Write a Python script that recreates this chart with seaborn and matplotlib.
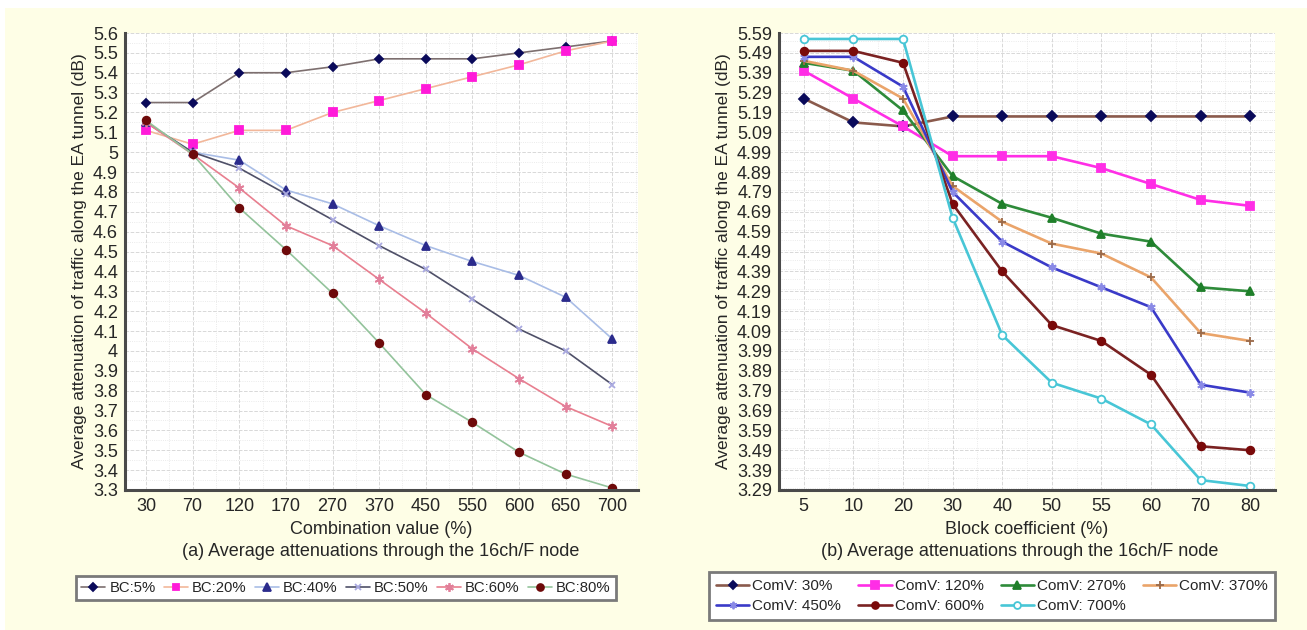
import numpy as np
import pandas as pd
import matplotlib
matplotlib.use("Agg")
import matplotlib.pyplot as plt
from matplotlib.patches import Rectangle
from matplotlib.ticker import MultipleLocator, FormatStrFormatter
import seaborn as sns

# ---- data ----
comb_values = ["30", "70", "120", "170", "270", "370", "450", "550", "600", "650", "700"]
bc5 = [5.25, 5.25, 5.40, 5.40, 5.43, 5.47, 5.47, 5.47, 5.50, 5.53, 5.56]
bc20 = [5.11, 5.04, 5.11, 5.11, 5.20, 5.26, 5.32, 5.38, 5.44, 5.51, 5.56]
bc40 = [5.15, 5.00, 4.96, 4.81, 4.74, 4.63, 4.53, 4.45, 4.38, 4.27, 4.06]
bc50 = [5.15, 5.00, 4.92, 4.79, 4.66, 4.53, 4.41, 4.26, 4.11, 4.00, 3.83]
bc60 = [5.15, 4.99, 4.82, 4.63, 4.53, 4.36, 4.19, 4.01, 3.86, 3.72, 3.62]
bc80 = [5.16, 4.99, 4.72, 4.51, 4.29, 4.04, 3.78, 3.64, 3.49, 3.38, 3.31]

block_coefs = ["5", "10", "20", "30", "40", "50", "55", "60", "70", "80"]
comv30 = [5.26, 5.14, 5.12, 5.17, 5.17, 5.17, 5.17, 5.17, 5.17, 5.17]
comv120 = [5.40, 5.26, 5.12, 4.97, 4.97, 4.97, 4.91, 4.83, 4.75, 4.72]
comv270 = [5.44, 5.40, 5.20, 4.87, 4.73, 4.66, 4.58, 4.54, 4.31, 4.29]
comv370 = [5.45, 5.40, 5.26, 4.82, 4.64, 4.53, 4.48, 4.36, 4.08, 4.04]
comv450 = [5.47, 5.47, 5.32, 4.79, 4.54, 4.41, 4.31, 4.21, 3.82, 3.78]
comv600 = [5.50, 5.50, 5.44, 4.73, 4.39, 4.12, 4.04, 3.87, 3.51, 3.49]
comv700 = [5.56, 5.56, 5.56, 4.66, 4.07, 3.83, 3.75, 3.62, 3.34, 3.31]

# label, values, line colour, marker, marker face, marker edge, marker size
series_a = [
    ("BC:5%", bc5, "#7d6f6f", "D", "#0a0a5a", "#0a0a5a", 4.5),
    ("BC:20%", bc20, "#f2b79a", "s", "#ff1ad9", "#ff1ad9", 5.5),
    ("BC:40%", bc40, "#a9bde6", "^", "#2b2b8c", "#2b2b8c", 6),
    ("BC:50%", bc50, "#4f5068", "x", "#a9a9e0", "#a9a9e0", 5),
    ("BC:60%", bc60, "#e87f8f", (6, 2, 0), "#e27f9a", "#e27f9a", 7),
    ("BC:80%", bc80, "#93c39b", "o", "#6e0a0a", "#6e0a0a", 5.5),
]
series_b = [
    ("ComV: 30%", comv30, "#8a5a4c", "D", "#0a0a5a", "#0a0a5a", 5),
    ("ComV: 120%", comv120, "#ff2ee6", "s", "#ff2ee6", "#ff2ee6", 6),
    ("ComV: 270%", comv270, "#2e8b3a", "^", "#1f7f2a", "#1f7f2a", 6),
    ("ComV: 370%", comv370, "#eaa46a", "+", "#9a6a4a", "#9a6a4a", 6),
    ("ComV: 450%", comv450, "#3a3ac8", (6, 2, 0), "#8a8ae6", "#8a8ae6", 6),
    ("ComV: 600%", comv600, "#7a2222", "o", "#7a0a0a", "#7a0a0a", 5.5),
    ("ComV: 700%", comv700, "#48c6d6", "o", "white", "#48c6d6", 5.5),
]

sns.set_style("white")
plt.rcParams["font.family"] = ["Liberation Sans", "DejaVu Sans"]

fig = plt.figure(figsize=(13.07, 6.3), dpi=100)
fig.patch.set_facecolor("white")
fig.patches.append(Rectangle((5 / 1307, 0), 1 - 5 / 1307, 1 - 8 / 630,
                             transform=fig.transFigure, facecolor="#fefee6",
                             edgecolor="none", zorder=-10))

ax_a = fig.add_axes([125 / 1307, 1 - 490 / 630, 513 / 1307, 457 / 630])
ax_b = fig.add_axes([779 / 1307, 1 - 490 / 630, 496 / 1307, 457 / 630])


def draw_panel(ax, cats, series, lw):
    pos = np.arange(len(cats))
    for label, vals, lc, mk, mfc, mec, ms in series:
        df = pd.DataFrame({"x": pos, "y": vals})
        sns.lineplot(data=df, x="x", y="y", ax=ax, color=lc, linewidth=lw,
                     marker=mk, markersize=ms, markerfacecolor=mfc,
                     markeredgecolor=mec, markeredgewidth=1.3, label=label,
                     sort=False)
    ax.set_xticks(pos)
    ax.set_xticklabels(cats)
    ax.set_facecolor("white")
    # tick marks sit between the categories, as in the original
    ax.xaxis.set_minor_locator(MultipleLocator(1, offset=0.5))
    ax.yaxis.set_minor_locator(MultipleLocator(0.05))
    ax.grid(which="major", color="#d8d8d8", linewidth=0.7, linestyle="--")
    ax.grid(which="minor", color="#e4e4e4", linewidth=0.6, linestyle=":")
    ax.set_axisbelow(True)
    for s in ["top", "right"]:
        ax.spines[s].set_visible(False)
    for s in ["left", "bottom"]:
        ax.spines[s].set_color("#4a4a4a")
        ax.spines[s].set_linewidth(2.2)
    ax.tick_params(axis="x", which="major", length=0, labelsize=13, pad=6)
    ax.tick_params(axis="x", which="minor", direction="in", length=4,
                   width=1.5, color="#3a3a3a")
    ax.tick_params(axis="y", which="major", direction="out", length=3,
                   width=1.5, color="#4a4a4a", labelsize=13, pad=2)
    ax.tick_params(axis="y", which="minor", length=0)
    ax.set_ylabel("Average attenuation of traffic along the EA tunnel (dB)",
                  fontsize=12.5, labelpad=4)


draw_panel(ax_a, comb_values, series_a, 1.2)
ax_a.set_xlim(-0.45, 10.55)
ax_a.set_ylim(3.3, 5.6)
ax_a.set_yticks(np.round(np.arange(3.3, 5.65, 0.1), 2))
ax_a.yaxis.set_major_formatter(FormatStrFormatter("%g"))
ax_a.set_xlabel("Combination value (%)", fontsize=13, labelpad=4)

draw_panel(ax_b, block_coefs, series_b, 1.9)
ax_b.set_xlim(-0.5, 9.5)
ax_b.set_ylim(3.29, 5.59)
ax_b.set_yticks(np.round(np.arange(3.29, 5.64, 0.1), 2))
ax_b.yaxis.set_major_formatter(FormatStrFormatter("%.2f"))
ax_b.set_xlabel("Block coefficient (%)", fontsize=13, labelpad=4)

fig.text(381 / 1307, 1 - 552 / 630,
         "(a) Average attenuations through the 16ch/F node",
         ha="center", va="center", fontsize=13)
fig.text(1020 / 1307, 1 - 552 / 630,
         "(b) Average attenuations through the 16ch/F node",
         ha="center", va="center", fontsize=13)

leg_a = ax_a.legend(loc="center", bbox_to_anchor=(346 / 1307, 1 - 588 / 630),
                    bbox_transform=fig.transFigure, ncol=6, fontsize=10.7,
                    frameon=True, fancybox=False, handlelength=1.6,
                    handletextpad=0.3, columnspacing=0.55, borderpad=0.35,
                    markerscale=0.9)
leg_a.get_frame().set_edgecolor("#7a7a7a")
leg_a.get_frame().set_linewidth(2)
leg_a.get_frame().set_facecolor("white")
leg_a.get_frame().set_alpha(1)

# reorder so the 4-column legend reads row by row
h_b, l_b = ax_b.get_legend_handles_labels()
order = [0, 4, 1, 5, 2, 6, 3]
leg_b = ax_b.legend([h_b[i] for i in order], [l_b[i] for i in order],
                    loc="center", bbox_to_anchor=(992 / 1307, 1 - 596 / 630),
                    bbox_transform=fig.transFigure, ncol=4, fontsize=11,
                    frameon=True, fancybox=False, handlelength=2.2,
                    handletextpad=0.2, columnspacing=1.1, borderpad=0.45,
                    labelspacing=0.4, markerscale=0.9)
leg_b.get_frame().set_edgecolor("#7a7a7a")
leg_b.get_frame().set_linewidth(2)
leg_b.get_frame().set_facecolor("white")
leg_b.get_frame().set_alpha(1)

fig.savefig("out.png", dpi=100, facecolor=fig.get_facecolor())
